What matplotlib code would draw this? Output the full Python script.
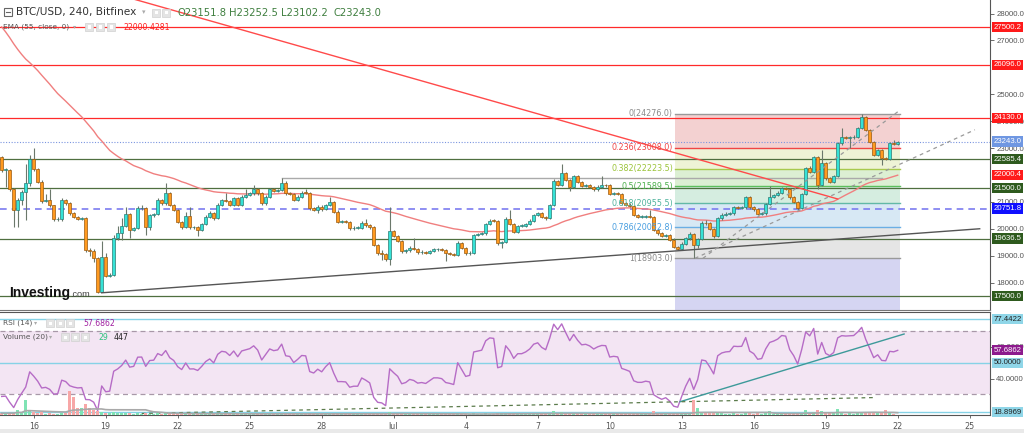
import numpy as np
import pandas as pd
import matplotlib
matplotlib.use("Agg")
import matplotlib.pyplot as plt
from matplotlib.patches import Rectangle
from matplotlib.ticker import FixedLocator, FuncFormatter
import matplotlib.transforms as mtransforms

# ---------------- data (BTC/USD, 4h candles, Bitfinex) ----------------
start_time = "2022-06-14 16:00"
first_open = 22680.0
closes = [
    22185, 22200, 21466, 20698, 21070, 21380, 21690, 22581, 22210, 21751,
    21045, 21080, 20872, 20351, 20370, 21070, 20946, 20574, 20450, 20376,
    20390, 19211, 19190, 18902, 17663, 18964, 18245, 18282, 19645, 19831,
    20104, 20549, 19955, 20017, 20760, 20770, 20054, 20512, 20540, 21070,
    20946, 21342, 20884, 20698, 20265, 20054, 20475, 20054, 20060, 19955,
    20178, 20450, 20600, 20390, 20883, 21070, 21040, 20883, 21130, 20883,
    21193, 21255, 21317, 21467, 21317, 20945, 21193, 21467, 21405, 21440,
    21714, 21317, 21293, 21070, 21193, 21342, 21330, 20760, 20700, 20822,
    20722, 20883, 21007, 20636, 20264, 20264, 20250, 20016, 20040, 20040,
    20227, 20150, 20054, 19397, 19087, 19050, 18864, 19917, 19731, 19558,
    19160, 19200, 19300, 19250, 19124, 19140, 19100, 19170, 19236, 19236,
    19211, 19087, 19060, 19025, 19484, 19300, 19087, 19110, 19769, 19800,
    19831, 20178, 20301, 20290, 19459, 19500, 20351, 20178, 19893, 20103,
    20103, 20178, 20301, 20512, 20574, 20450, 20388, 20884, 21788, 21627,
    22085, 21813, 21540, 21962, 21751, 21590, 21620, 21565, 21466, 21565,
    21627, 21620, 21292, 21317, 21300, 20946, 20900, 20847, 20512, 20450,
    20450, 20475, 20450, 19954, 19831, 19731, 19760, 19600, 19320, 19260,
    19450, 19650, 19820, 19380, 19620, 20228, 20200, 19990, 19720, 20389,
    20513, 20560, 20575, 20798, 20790, 20798, 21169, 20798, 20723, 20550,
    20575, 20921, 21194, 21256, 21343, 21504, 21490, 21169, 21008, 20760,
    21281, 22247, 22123, 22656, 21628, 22458, 21875, 21751, 21962, 23176,
    23399, 23380, 23399, 23424, 23734, 24168, 23672, 23238, 22743, 22929,
    22619, 22600, 23176, 23152, 23243.0,
]
highs = [
    22720, 22260, 22230, 21500, 21150, 21450, 22400, 22750, 22990, 22260,
    21800, 21300, 21466, 20900, 20420, 21150, 21120, 20980, 20620, 20480,
    20440, 20420, 19300, 19250, 18950, 19550, 19100, 18340, 19750, 20100,
    20400, 20800, 20580, 20080, 20850, 20880, 20800, 20560, 20600, 21150,
    21110, 21700, 21380, 20920, 20730, 20300, 20636, 20822, 20120, 20100,
    20230, 20520, 20650, 20640, 20940, 21120, 21317, 21080, 21180, 21170,
    21240, 21467, 21370, 21628, 21510, 21350, 21240, 21520, 21500, 21490,
    21875, 21760, 21360, 21330, 21240, 21400, 21467, 21370, 20800, 20880,
    20870, 20930, 21193, 21040, 20680, 20320, 20310, 20290, 20100, 20090,
    20290, 20380, 20190, 20090, 19430, 19200, 19090, 20797, 19960, 19770,
    19600, 19260, 19350, 19645, 19290, 19200, 19180, 19220, 19280, 19290,
    19270, 19250, 19130, 19100, 19530, 19520, 19340, 19160, 19820, 19860,
    19880, 20230, 20350, 20360, 20330, 19560, 20450, 20700, 20220, 20150,
    20160, 20230, 20350, 20560, 20630, 20610, 20490, 20930, 21840, 21830,
    22408, 22120, 21850, 22010, 22000, 21790, 21680, 21660, 21600, 21610,
    21962, 21680, 21660, 21370, 21360, 21340, 20990, 20940, 20880, 20560,
    20500, 20530, 20700, 20490, 19990, 19870, 19810, 19800, 19640, 19360,
    19500, 19700, 19870, 19850, 19670, 20280, 20330, 20240, 20030, 20440,
    20570, 20620, 20630, 20850, 20860, 20850, 21220, 21210, 20840, 20770,
    20630, 20970, 21590, 21310, 21400, 21560, 21560, 21530, 21210, 21050,
    21330, 22300, 22350, 22700, 22700, 22929, 22500, 21920, 22010, 23230,
    23734, 23450, 23450, 23480, 23790, 24276, 24210, 23710, 23280, 22980,
    22970, 22680, 23220, 23300, 23252.5,
]
lows = [
    22100, 21550, 21400, 20079, 20079, 20900, 20330, 21600, 22150, 21700,
    20950, 20980, 20820, 20300, 20300, 20300, 20900, 20520, 20400, 20330,
    20330, 19150, 19000, 18750, 17620, 17640, 18200, 18200, 18250, 19600,
    19600, 20050, 19650, 19900, 19980, 20700, 19780, 19950, 20450, 20500,
    20900, 20900, 20840, 20650, 20220, 20000, 20010, 20000, 20000, 19731,
    19900, 20130, 20400, 20340, 20350, 20830, 20990, 20830, 20830, 20830,
    20840, 21150, 21200, 21270, 21270, 20900, 20900, 21150, 21360, 21360,
    21400, 21270, 21240, 21020, 21020, 21150, 21280, 20710, 20650, 20600,
    20670, 20680, 20840, 20590, 20220, 20200, 20200, 19950, 19960, 19980,
    19990, 20060, 20000, 19350, 19040, 18839, 18820, 18653, 19680, 19510,
    19100, 19110, 19150, 19200, 19070, 19080, 19050, 19060, 19120, 19190,
    19160, 18802, 19010, 18980, 18990, 19250, 19040, 19040, 19070, 19720,
    19750, 19780, 20130, 20240, 19410, 19273, 19460, 20130, 19840, 19850,
    20050, 20060, 20130, 20260, 20470, 20400, 20340, 20350, 20850, 21580,
    21590, 21770, 21400, 21500, 21700, 21540, 21540, 21510, 21420, 21420,
    21520, 21570, 21250, 21250, 21250, 20900, 20850, 20800, 20460, 20400,
    20400, 20410, 20400, 19900, 19780, 19680, 19690, 19550, 19270, 19210,
    19220, 19410, 19600, 18903, 19300, 19580, 20150, 19940, 19670, 19680,
    20340, 20470, 20510, 20530, 20740, 20740, 20750, 20750, 20670, 20500,
    20500, 20530, 20880, 21150, 21210, 21300, 21440, 21120, 20960, 20710,
    20720, 21240, 22070, 22080, 21467, 21580, 21820, 21700, 21700, 21920,
    23130, 23330, 23000, 23350, 23380, 23690, 23620, 23190, 22700, 22690,
    22371, 22550, 22560, 23102, 23102.2,
]
volumes = [
    350, 300, 420, 380, 1000, 500, 2900, 900, 600, 400, 500, 250, 300, 250, 200,
    400, 300, 4700, 3500, 1300, 1300, 2100, 1300, 900, 700, 600, 400, 300, 500, 400,
    350, 400, 300, 200, 350, 250, 300, 250, 200, 300, 250, 350, 300, 200, 300,
    250, 300, 250, 150, 200, 250, 300, 200, 250, 350, 250, 200, 250, 200, 150,
    250, 200, 150, 250, 200, 300, 250, 300, 150, 150, 350, 300, 150, 250, 200,
    200, 150, 350, 200, 150, 150, 200, 200, 300, 350, 150, 100, 250, 150, 150,
    200, 150, 200, 450, 400, 300, 350, 600, 300, 250, 350, 150, 150, 200, 200,
    100, 150, 100, 150, 100, 100, 250, 150, 150, 350, 200, 250, 150, 400, 150,
    150, 300, 250, 150, 450, 300, 450, 300, 250, 200, 150, 200, 250, 300, 250,
    200, 250, 350, 700, 400, 500, 350, 300, 350, 300, 250, 150, 200, 250, 200,
    250, 150, 300, 150, 150, 350, 200, 200, 400, 250, 150, 150, 200, 800, 400,
    300, 200, 300, 450, 300, 250, 300, 300, 2900, 1300, 600, 300, 350, 400, 450,
    300, 200, 150, 300, 150, 150, 350, 300, 200, 300, 150, 400, 800, 250, 250,
    300, 200, 300, 250, 350, 450, 1000, 450, 600, 1000, 700, 400, 300, 300, 1100,
    500, 250, 300, 250, 400, 600, 500, 450, 500, 300, 400, 1000, 450, 200, 29,
]
ema_period = 55
ema_seed = 27700.0          # EMA level entering the window (read from the left edge)
rsi_period = 14
rsi_seed_gain, rsi_seed_loss = 120.0, 260.0
vol_ma_period = 20

tick_dates = ["2022-06-16", "2022-06-19", "2022-06-22", "2022-06-25", "2022-06-28",
              "2022-07-01", "2022-07-04", "2022-07-07", "2022-07-10", "2022-07-13",
              "2022-07-16", "2022-07-19", "2022-07-22", "2022-07-25"]
tick_labels = ["16", "19", "22", "25", "28", "Jul", "4", "7", "10", "13", "16", "19", "22", "25"]
price_ticks = [18000, 19000, 20000, 21000, 23000, 24000, 25000, 27000, 28000]
rsi_ticks = [40, 60]

red_levels = [27500.2, 26096.0, 24130.0]
green_levels = [22585.4, 21500.0, 19636.5, 17500.0]
blue_dashed_level = 20751.8
last_price = 23243.0
ema_last = 22000.4
rsi_levels_cyan = [77.4422, 50.0, 18.8969]
rsi_last = 57.6862

fib_high, fib_low = 24276.0, 18903.0
fib_ratios = [0, 0.236, 0.382, 0.5, 0.618, 0.786, 1]
fib_start_idx, fib_end_idx = 168.3, 224.6

red_trend = ([20, 209], [29086, 21107])
black_trend = ([25, 244.5], [17620, 20000])
gray_hline = ([70, 220], [21875, 21875])
dash_steep = ([175.3, 224.6], [18900, 24415])
dash_shallow = ([173.3, 243.3], [18900, 23680])
rsi_trend = ([169.6, 225.6], [25.4, 68.0])
rsi_dash = ([35, 218], [18.0, 28.0])

# ---------------- derived series ----------------
n = len(closes)
assert len(highs) == n and len(lows) == n and len(volumes) == n
x = np.arange(n)
c = np.array(closes, float)
o = np.concatenate([[first_open], c[:-1]])
h = np.array(highs, float)
l = np.array(lows, float)
v = np.array(volumes, float)
up = c >= o

alpha = 2.0 / (ema_period + 1)
ema = []
e = ema_seed
for val in c:
    e = alpha * val + (1 - alpha) * e
    ema.append(e)

rsi = []
g, ls = rsi_seed_gain, rsi_seed_loss
prev = first_open
for val in c:
    d = val - prev
    g = (g * (rsi_period - 1) + max(d, 0)) / rsi_period
    ls = (ls * (rsi_period - 1) + max(-d, 0)) / rsi_period
    rsi.append(100 - 100 / (1 + g / ls))
    prev = val

vol_ma = pd.Series(v).rolling(vol_ma_period, min_periods=1).mean().values

t0 = pd.Timestamp(start_time)
tick_pos = [(pd.Timestamp(d) - t0) / pd.Timedelta(hours=4) for d in tick_dates]

# ---------------- figure ----------------
W, H = 1024, 433
fig = plt.figure(figsize=(W / 100, H / 100), dpi=100)
fig.patch.set_facecolor("white")
LAB_FONT = "Liberation Sans"

def fr(px_x, px_y_top, px_w, px_h):
    return [px_x / W, 1 - (px_y_top + px_h) / H, px_w / W, px_h / H]

ax = fig.add_axes(fr(0, 0, 990, 310))
rax = fig.add_axes(fr(0, 312, 990, 103))
vax = rax.twinx()

XL = (-0.425, 247.075)
ax.set_xlim(*XL)
ax.set_ylim(16980, 28504)
rax.set_xlim(*XL)
rax.set_ylim(17.03, 81.85)
vax.set_ylim(0, 20000)

# fib zones
fib_vals = [fib_high - r * (fib_high - fib_low) for r in fib_ratios]
zone_colors = ["#f3d1d1", "#eef3d6", "#dcefd3", "#d5ede0", "#d7e8f4", "#e5e5e5"]
line_colors = ["#999999", "#f04545", "#a8c94e", "#5cbf5c", "#62b9a6", "#6aaee4", "#999999"]
text_colors = ["#8a8a8a", "#f04545", "#9cc43a", "#4cb04c", "#4fb39c", "#4a9fe0", "#8a8a8a"]
for k in range(len(fib_vals) - 1):
    ax.fill_between([fib_start_idx, fib_end_idx], fib_vals[k + 1], fib_vals[k],
                    color=zone_colors[k], lw=0, zorder=0.5)
ax.fill_between([fib_start_idx, fib_end_idx], 16000, fib_vals[-1],
                color="#d5d5f2", lw=0, zorder=0.5)
for k, (r, val) in enumerate(zip(fib_ratios, fib_vals)):
    ax.plot([fib_start_idx, fib_end_idx], [val, val], color=line_colors[k], lw=1.0, zorder=0.8)
    ax.text(fib_start_idx - 0.5, val, f"{r:g}({val:.1f})", ha="right", va="center",
            fontsize=5.8, color=text_colors[k], zorder=6)

# horizontal levels
for lv in red_levels:
    ax.axhline(lv, color="#ff2a2a", lw=0.9, zorder=1)
for lv in green_levels:
    ax.axhline(lv, color="#4f6f3f", lw=0.9, zorder=1)
ax.axhline(blue_dashed_level, color="#7b7bf0", lw=1.2, ls=(0, (4, 3)), zorder=1)
ax.axhline(last_price, color="#7b95e0", lw=0.8, ls=(0, (1, 1.5)), zorder=1)
ax.plot(*gray_hline, color="#aaaaaa", lw=1.0, zorder=1)

# EMA
ax.plot(x, ema, color="#f07f7f", lw=1.0, zorder=2)

# candles
ax.vlines(x, l, h, color="#6b786b", lw=0.8, zorder=2.5)
body_bottom = np.minimum(o, c)
body_h = np.maximum(np.abs(c - o), 22)
ax.bar(x[up], body_h[up], bottom=body_bottom[up], width=0.76, color="#36e2d6",
       edgecolor="#2c7b74", linewidth=0.5, zorder=3)
ax.bar(x[~up], body_h[~up], bottom=body_bottom[~up], width=0.76, color="#ff9a1f",
       edgecolor="#9a5a10", linewidth=0.5, zorder=3)

# trend lines
ax.plot(*red_trend, color="#ff4a4a", lw=1.0, zorder=4)
ax.plot(*black_trend, color="#555555", lw=1.0, zorder=4)
ax.plot(*dash_steep, color="#9a9a9a", lw=0.9, ls=(0, (3, 3)), zorder=4)
ax.plot(*dash_shallow, color="#9a9a9a", lw=0.9, ls=(0, (3, 3)), zorder=4)

# price axis
ax.yaxis.tick_right()
ax.yaxis.set_major_locator(FixedLocator(price_ticks))
ax.yaxis.set_major_formatter(FuncFormatter(lambda val, p: f"{val:.1f}"))
ax.tick_params(axis="y", labelsize=5.6, colors="#555555", length=3, width=0.6, pad=1.5)
for t in ax.get_yticklabels():
    t.set_family(LAB_FONT)
ax.tick_params(axis="x", bottom=False, labelbottom=False)
for s in ["left", "top"]:
    ax.spines[s].set_visible(False)
ax.spines["right"].set_color("#555555")
ax.spines["bottom"].set_color("#777777")
ax.spines["right"].set_linewidth(0.8)
ax.spines["bottom"].set_linewidth(0.8)

tr = mtransforms.blended_transform_factory(ax.transAxes, ax.transData)
def tag(axis, trans, y, s, bg, fg="white"):
    axis.text(1.0035, y, s, transform=trans, fontsize=5.6, color=fg, ha="left", va="center",
              family=LAB_FONT, clip_on=False, zorder=20,
              bbox=dict(boxstyle="square,pad=0.2", fc=bg, ec="none"))

for lv in red_levels:
    tag(ax, tr, lv, f"{lv:.1f}", "#ff1a1a")
tag(ax, tr, last_price, f"{last_price:.1f}", "#6f97e2")
tag(ax, tr, green_levels[0], f"{green_levels[0]:.1f}", "#2e5a1e")
tag(ax, tr, ema_last, f"{ema_last:.1f}", "#ff1a1a")
for lv in green_levels[1:]:
    tag(ax, tr, lv, f"{lv:.1f}", "#2e5a1e")
tag(ax, tr, blue_dashed_level, f"{blue_dashed_level:.1f}", "#1010ff")

# ---------------- RSI panel ----------------
rax.axhspan(30, 70, color="#f3e5f3", lw=0, zorder=0.5)
rax.axhline(70, color="#a898a8", lw=0.9, ls=(0, (4, 3)), zorder=1)
rax.axhline(30, color="#a898a8", lw=0.9, ls=(0, (4, 3)), zorder=1)
for lv in rsi_levels_cyan:
    rax.axhline(lv, color="#86d2e6", lw=1.0, zorder=1)
rax.plot(x, rsi, color="#b66cc6", lw=1.0, zorder=3)
rax.plot(*rsi_trend, color="#3d9a9a", lw=1.0, zorder=4)
rax.plot(*rsi_dash, color="#5b7b4b", lw=0.9, ls=(0, (3, 3)), zorder=4)

vcol = np.where(up, "#7fe3b4", "#f7a7a7")
vax.bar(x, v, width=0.76, color=vcol, zorder=2)
vax.plot(x, vol_ma, color="#a9a9a9", lw=1.2, zorder=3)
vax.set_yticks([])
for s in vax.spines.values():
    s.set_visible(False)

rax.yaxis.tick_right()
rax.yaxis.set_major_locator(FixedLocator(rsi_ticks))
rax.yaxis.set_major_formatter(FuncFormatter(lambda val, p: f"{val:.4f}"))
rax.tick_params(axis="y", labelsize=5.6, colors="#555555", length=3, width=0.6, pad=1.5)
for t in rax.get_yticklabels():
    t.set_family(LAB_FONT)
rax.set_xticks(tick_pos)
rax.set_xticklabels(tick_labels)
rax.tick_params(axis="x", labelsize=5.8, colors="#555555", length=2.5, width=0.6, pad=2.5)
rax.spines["left"].set_visible(False)
for s in ["top", "right", "bottom"]:
    rax.spines[s].set_color("#555555")
    rax.spines[s].set_linewidth(0.8)

rtr = mtransforms.blended_transform_factory(rax.transAxes, rax.transData)
tag(rax, rtr, rsi_levels_cyan[0], f"{rsi_levels_cyan[0]:.4f}", "#8fd6e8", "#222222")
tag(rax, rtr, rsi_last, f"{rsi_last:.4f}", "#8d1a8d")
tag(rax, rtr, rsi_levels_cyan[1], f"{rsi_levels_cyan[1]:.4f}", "#8fd6e8", "#222222")
tag(rax, rtr, rsi_levels_cyan[2], f"{rsi_levels_cyan[2]:.4f}", "#8fd6e8", "#222222")

# ---------------- header texts & icons ----------------
def ptext(px, py, s, **kw):
    kw.setdefault("va", "center")
    fig.text(px / W, 1 - py / H, s, **kw)

def prect(px, py, pw, ph, **kw):
    fig.add_artist(Rectangle((px / W, 1 - (py + ph) / H), pw / W, ph / H,
                             transform=fig.transFigure, **kw))

def icons(xs, py):
    for xx in xs:
        prect(xx, py, 8, 8, facecolor="#e4e4e4", edgecolor="#d0d0d0", lw=0.5)
        prect(xx + 2.5, py + 2.5, 3, 3, facecolor="white", edgecolor="none")

prect(3.5, 8, 8, 8, facecolor="white", edgecolor="#666666", lw=0.8)
fig.add_artist(plt.Line2D([5.5 / W, 9.5 / W], [1 - 12 / H, 1 - 12 / H], color="#666666", lw=0.8))
ptext(16, 12.5, "BTC/USD, 240, Bitfinex", fontsize=7.6, color="#333333")
ptext(142, 12.5, "\u25be", fontsize=5, color="#aaaaaa")
icons([152, 162], 8.5)
ohlc_labels = ["O23151.8", "H23252.5", "L23102.2", "C23243.0"]
for k, s in enumerate(ohlc_labels):
    ptext(177 + 52 * k, 12.5, s, fontsize=7.2, color="#3f7f3f")

ptext(3, 27, "EMA (55, close, 0)", fontsize=5.3, color="#555555")
ptext(73, 27, "\u25be", fontsize=4.5, color="#aaaaaa")
icons([85, 96, 107], 23)
ptext(123, 27, "22000.4281", fontsize=5.6, color="#ff2020")

ptext(3, 323, "RSI (14)", fontsize=5.3, color="#555555")
ptext(34, 323, "\u25be", fontsize=4.5, color="#aaaaaa")
icons([46, 56, 66], 319)
ptext(83, 323, f"{rsi_last:.4f}", fontsize=5.6, color="#a020a0")

ptext(3, 337, "Volume (20)", fontsize=5.3, color="#555555")
ptext(49, 337, "\u25be", fontsize=4.5, color="#aaaaaa")
icons([61, 71, 81], 333)
ptext(98, 337, "29", fontsize=5.6, color="#2ec27e")
ptext(114, 337, "447", fontsize=5.6, color="#222222")

# Investing.com logo
ptext(9, 297, "Investing", fontsize=10, fontweight="bold", color="#111111",
      family=LAB_FONT, va="baseline")
ptext(70, 297, ".com", fontsize=6.6, color="#444444", family=LAB_FONT, va="baseline")

# bottom strip
prect(0, 429, 1024, 4, facecolor="#e9e9e9", edgecolor="none")

fig.savefig("out.png", dpi=100)
